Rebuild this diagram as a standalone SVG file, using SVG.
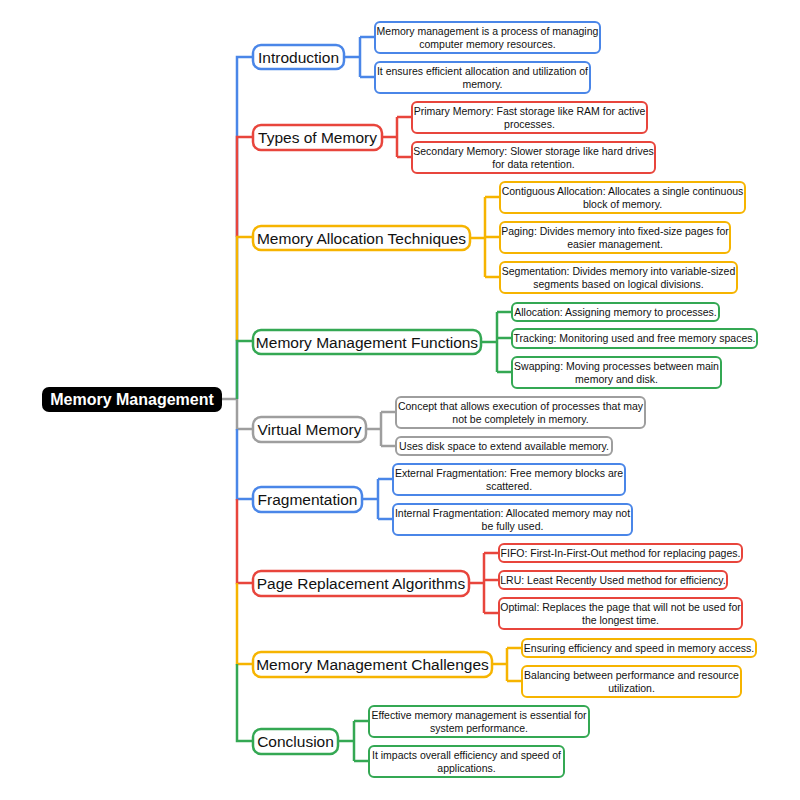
<svg xmlns="http://www.w3.org/2000/svg" width="800" height="800" viewBox="0 0 800 800">
<style>
text{font-family:"Liberation Sans",Arial,sans-serif;text-anchor:middle;fill:#111}
.n rect{fill:#fff;stroke-width:2.5}
.n text{font-size:15.5px}
.c rect{fill:#fff;stroke-width:2}
.c text{font-size:10.5px}
.b rect{stroke:#4a86e8}.r rect{stroke:#e8453c}.y rect{stroke:#f6b400}.g rect{stroke:#34a853}.k rect{stroke:#9e9e9e}
#conn path{fill:none;stroke-width:2.5}
.B{stroke:#4a86e8}.R{stroke:#e8453c}.Y{stroke:#f6b400}.G{stroke:#34a853}.K{stroke:#9e9e9e}
</style>
<rect width="800" height="800" fill="#fff"/>
<g id="conn">
<path class="K" d="M222 399H237"/>
<path class="B" d="M237 399V57H253M344 57H360M360 37V77M360 37H375M360 77H375"/>
<path class="R" d="M237 237V137H253M382 137H397M397 117V157M397 117H412M397 157H412"/>
<path class="Y" d="M237 341V237H253M470 238H485M485 197V277M485 197H500M485 237H500M485 277H500"/>
<path class="G" d="M237 399V341H253M481 342H497M497 312V372M497 312H512M497 338H512M497 372H512"/>
<path class="K" d="M237 399V429H253M366 429H381M381 412V446M381 412H396M381 446H396"/>
<path class="B" d="M237 429V499H253M362 499H378M378 479V519M378 479H393M378 519H393"/>
<path class="R" d="M237 499V583H253M469 583H484M484 553V613M484 553H499M484 580H499M484 613H499"/>
<path class="Y" d="M237 583V664H253M492 664H507M507 648V681M507 648H522M507 681H522"/>
<path class="G" d="M237 664V741H253M338 741H354M354 721V761M354 721H369M354 761H369"/>
</g>
<g id="root"><rect x="42" y="387" width="180" height="25" rx="7" fill="#000"/><text x="132" y="405" style="font-size:16px;font-weight:bold;fill:#fff">Memory Management</text></g>

<g id="n1" class="n b"><rect x="253" y="45" width="91" height="24" rx="8"/><text x="298.5" y="63">Introduction</text></g>
<g id="n1a" class="c b"><rect x="375" y="22" width="225" height="31" rx="5"/><text x="487.5" y="35">Memory management is a process of managing</text><text x="487.5" y="48">computer memory resources.</text></g>
<g id="n1b" class="c b"><rect x="375" y="62" width="215" height="31" rx="5"/><text x="482.5" y="75">It ensures efficient allocation and utilization of</text><text x="482.5" y="88">memory.</text></g>

<g id="n2" class="n r"><rect x="253" y="125" width="129" height="25" rx="8"/><text x="317.5" y="143">Types of Memory</text></g>
<g id="n2a" class="c r"><rect x="412" y="102" width="235" height="31" rx="5"/><text x="529.5" y="115">Primary Memory: Fast storage like RAM for active</text><text x="529.5" y="128">processes.</text></g>
<g id="n2b" class="c r"><rect x="412" y="142" width="243" height="31" rx="5"/><text x="533.5" y="155">Secondary Memory: Slower storage like hard drives</text><text x="533.5" y="168">for data retention.</text></g>

<g id="n3" class="n y"><rect x="253" y="226" width="217" height="24" rx="8"/><text x="361.5" y="244">Memory Allocation Techniques</text></g>
<g id="n3a" class="c y"><rect x="500" y="182" width="245" height="31" rx="5"/><text x="622.5" y="195">Contiguous Allocation: Allocates a single continuous</text><text x="622.5" y="208">block of memory.</text></g>
<g id="n3b" class="c y"><rect x="500" y="222" width="230" height="31" rx="5"/><text x="615" y="235">Paging: Divides memory into fixed-size pages for</text><text x="615" y="248">easier management.</text></g>
<g id="n3c" class="c y"><rect x="500" y="262" width="237" height="31" rx="5"/><text x="618.5" y="275">Segmentation: Divides memory into variable-sized</text><text x="618.5" y="288">segments based on logical divisions.</text></g>

<g id="n4" class="n g"><rect x="253" y="330" width="228" height="24" rx="8"/><text x="367" y="348">Memory Management Functions</text></g>
<g id="n4a" class="c g"><rect x="512" y="303" width="207" height="18" rx="5"/><text x="615.5" y="316">Allocation: Assigning memory to processes.</text></g>
<g id="n4b" class="c g"><rect x="512" y="329" width="245" height="19" rx="5"/><text x="634.5" y="342">Tracking: Monitoring used and free memory spaces.</text></g>
<g id="n4c" class="c g"><rect x="512" y="357" width="209" height="31" rx="5"/><text x="616.5" y="370">Swapping: Moving processes between main</text><text x="616.5" y="383">memory and disk.</text></g>

<g id="n5" class="n k"><rect x="253" y="417" width="113" height="25" rx="8"/><text x="309.5" y="435">Virtual Memory</text></g>
<g id="n5a" class="c k"><rect x="396" y="397" width="249" height="31" rx="5"/><text x="520.5" y="410">Concept that allows execution of processes that may</text><text x="520.5" y="423">not be completely in memory.</text></g>
<g id="n5b" class="c k"><rect x="396" y="437" width="216" height="18" rx="5"/><text x="504" y="450">Uses disk space to extend available memory.</text></g>

<g id="n6" class="n b"><rect x="253" y="487" width="109" height="25" rx="8"/><text x="307.5" y="505">Fragmentation</text></g>
<g id="n6a" class="c b"><rect x="393" y="464" width="232" height="31" rx="5"/><text x="509" y="477">External Fragmentation: Free memory blocks are</text><text x="509" y="490">scattered.</text></g>
<g id="n6b" class="c b"><rect x="393" y="504" width="239" height="31" rx="5"/><text x="512.5" y="517">Internal Fragmentation: Allocated memory may not</text><text x="512.5" y="530">be fully used.</text></g>

<g id="n7" class="n r"><rect x="253" y="571" width="216" height="25" rx="8"/><text x="361" y="589">Page Replacement Algorithms</text></g>
<g id="n7a" class="c r"><rect x="499" y="544" width="243" height="18" rx="5"/><text x="620.5" y="557">FIFO: First-In-First-Out method for replacing pages.</text></g>
<g id="n7b" class="c r"><rect x="499" y="571" width="228" height="18" rx="5"/><text x="613" y="584">LRU: Least Recently Used method for efficiency.</text></g>
<g id="n7c" class="c r"><rect x="499" y="598" width="243" height="31" rx="5"/><text x="620.5" y="611">Optimal: Replaces the page that will not be used for</text><text x="620.5" y="624">the longest time.</text></g>

<g id="n8" class="n y"><rect x="253" y="652" width="239" height="25" rx="8"/><text x="372.5" y="670">Memory Management Challenges</text></g>
<g id="n8a" class="c y"><rect x="522" y="639" width="234" height="18" rx="5"/><text x="639" y="652">Ensuring efficiency and speed in memory access.</text></g>
<g id="n8b" class="c y"><rect x="522" y="666" width="219" height="31" rx="5"/><text x="631.5" y="679">Balancing between performance and resource</text><text x="631.5" y="692">utilization.</text></g>

<g id="n9" class="n g"><rect x="253" y="729" width="85" height="25" rx="8"/><text x="295.5" y="747">Conclusion</text></g>
<g id="n9a" class="c g"><rect x="369" y="706" width="220" height="31" rx="5"/><text x="479" y="719">Effective memory management is essential for</text><text x="479" y="732">system performance.</text></g>
<g id="n9b" class="c g"><rect x="369" y="746" width="195" height="31" rx="5"/><text x="466.5" y="759">It impacts overall efficiency and speed of</text><text x="466.5" y="772">applications.</text></g>
</svg>
